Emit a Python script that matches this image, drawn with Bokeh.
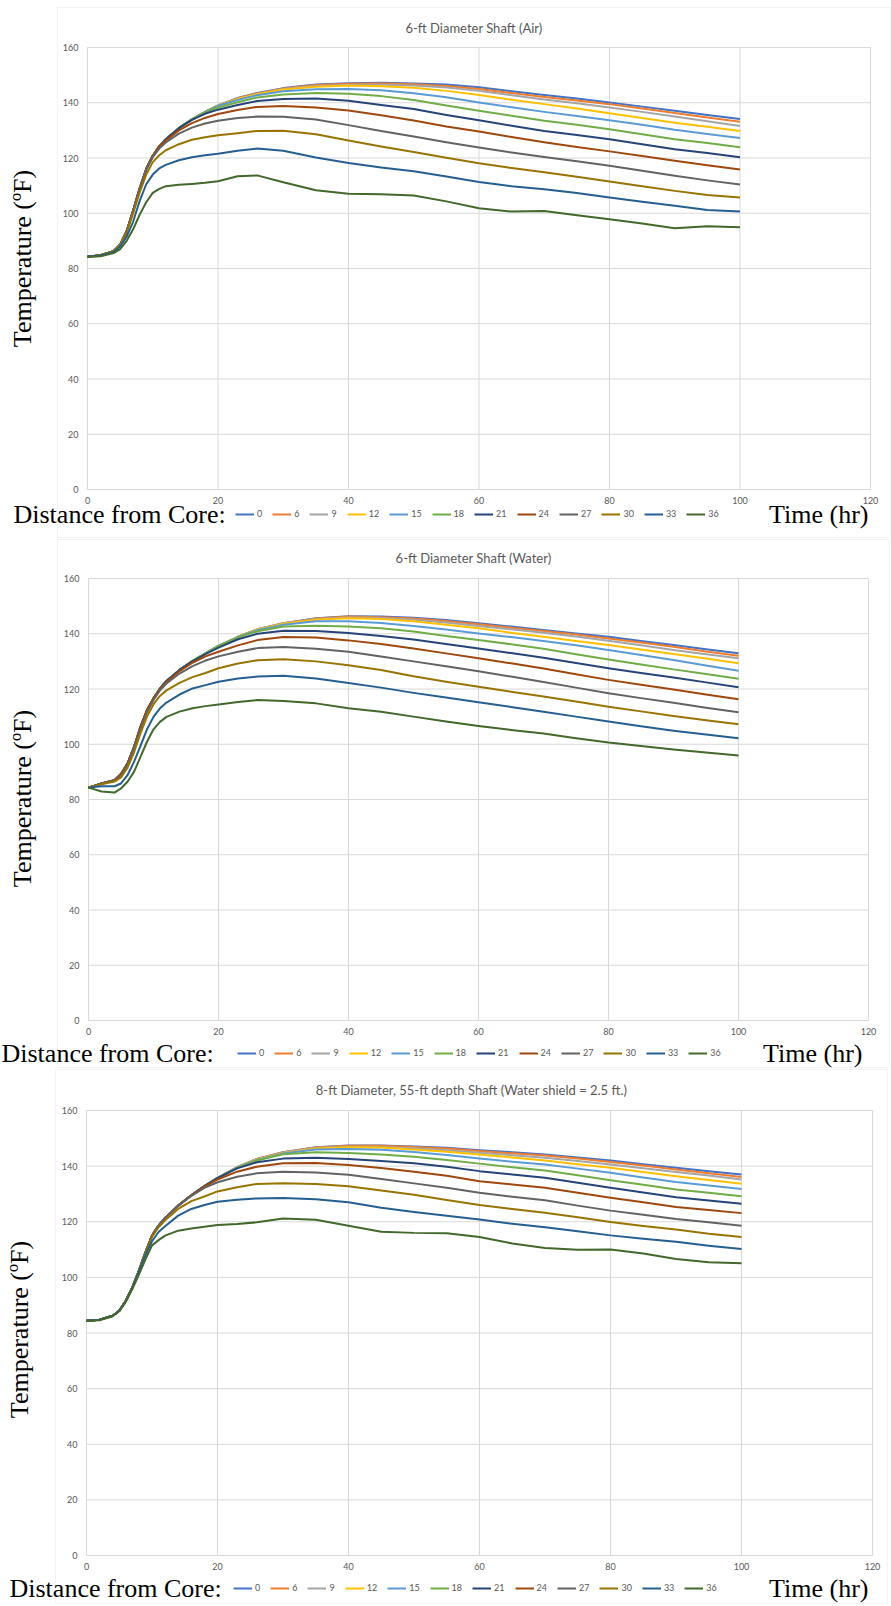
from math import pi
from bokeh.plotting import figure
from bokeh.models import Range1d, Label, BoxAnnotation, Legend, LegendItem, FixedTicker
from bokeh.layouts import column
from bokeh.embed import file_html
from bokeh.resources import INLINE

# ---------------- data ----------------
hours = [0, 2, 4, 5, 6, 7, 8, 9, 10, 11, 12, 14, 16, 18, 20, 23, 26, 30, 35, 40,
         45, 50, 55, 60, 65, 70, 75, 80, 85, 90, 95, 100]
distances = ["0", "6", "9", "12", "15", "18", "21", "24", "27", "30", "33", "36"]
x_ticks = [0, 20, 40, 60, 80, 100, 120]
y_ticks = [0, 20, 40, 60, 80, 100, 120, 140, 160]

# 6-ft Diameter Shaft (Air)
air_0 = [84.3, 84.8, 86.3, 88.6, 93.5, 101.0, 109.0, 116.0, 120.8, 124.2, 126.8, 130.8, 134.0, 136.7, 139.0, 141.7, 143.5, 145.3, 146.6, 147.1, 147.2, 147.0, 146.6, 145.6, 144.2, 142.8, 141.5, 140.1, 138.6, 137.1, 135.6, 134.1]
air_6 = [84.3, 84.8, 86.3, 88.6, 93.5, 101.0, 109.0, 116.0, 120.8, 124.2, 126.8, 130.8, 134.0, 136.7, 139.0, 141.6, 143.4, 145.2, 146.4, 146.9, 147.0, 146.7, 146.1, 145.0, 143.5, 142.1, 140.8, 139.5, 137.9, 136.3, 134.7, 133.1]
air_9 = [84.3, 84.8, 86.3, 88.6, 93.5, 101.0, 109.0, 116.0, 120.8, 124.2, 126.8, 130.8, 134.0, 136.7, 139.0, 141.5, 143.2, 145.0, 146.1, 146.5, 146.5, 146.2, 145.5, 144.3, 142.7, 141.2, 139.8, 138.3, 136.7, 135.0, 133.3, 131.6]
air_12 = [84.3, 84.8, 86.3, 88.6, 93.5, 101.0, 109.0, 116.0, 120.8, 124.2, 126.8, 130.8, 134.0, 136.7, 139.0, 141.4, 143.1, 144.8, 145.8, 146.2, 146.0, 145.4, 144.3, 142.8, 141.1, 139.5, 137.9, 136.2, 134.5, 132.8, 131.3, 129.8]
air_15 = [84.3, 84.8, 86.3, 88.6, 93.5, 101.0, 109.0, 116.0, 120.8, 124.2, 126.8, 130.8, 134.0, 136.7, 138.9, 141.0, 142.7, 144.2, 144.9, 145.0, 144.5, 143.4, 142.0, 140.1, 138.4, 136.7, 135.2, 133.7, 132.0, 130.2, 128.7, 127.2]
air_18 = [84.3, 84.8, 86.3, 88.6, 93.5, 101.0, 109.0, 116.0, 120.8, 124.2, 126.8, 130.8, 134.0, 136.5, 138.3, 140.2, 141.9, 143.0, 143.5, 143.3, 142.4, 141.0, 139.0, 137.1, 135.3, 133.5, 132.0, 130.4, 128.6, 126.8, 125.4, 123.9]
air_21 = [84.3, 84.8, 86.3, 88.6, 93.5, 101.0, 109.0, 116.0, 120.8, 124.2, 126.8, 130.8, 133.8, 136.0, 137.5, 139.2, 140.6, 141.4, 141.5, 140.7, 139.2, 137.7, 135.6, 133.7, 131.7, 129.8, 128.3, 126.8, 125.0, 123.2, 121.8, 120.3]
air_24 = [84.3, 84.8, 86.3, 88.6, 93.5, 101.0, 109.0, 116.0, 120.8, 124.2, 126.3, 130.0, 132.6, 134.5, 135.9, 137.4, 138.5, 138.8, 138.3, 137.2, 135.5, 133.6, 131.4, 129.6, 127.6, 125.7, 124.0, 122.4, 120.7, 119.0, 117.4, 115.8]
air_27 = [84.3, 84.8, 86.3, 88.6, 93.5, 101.0, 109.0, 115.8, 120.3, 123.4, 125.6, 128.8, 131.0, 132.5, 133.5, 134.5, 135.0, 134.9, 133.9, 131.9, 129.8, 127.8, 125.7, 123.8, 122.0, 120.4, 118.8, 117.2, 115.4, 113.6, 111.9, 110.4]
air_30 = [84.3, 84.8, 86.3, 88.5, 93.0, 100.0, 107.5, 114.0, 118.5, 121.0, 122.8, 125.0, 126.6, 127.5, 128.2, 129.0, 129.8, 129.9, 128.6, 126.3, 124.2, 122.2, 120.1, 118.1, 116.4, 114.8, 113.2, 111.5, 109.8, 108.1, 106.6, 105.7]
air_33 = [84.3, 84.7, 86.0, 88.0, 91.5, 97.0, 104.5, 110.5, 114.0, 116.2, 117.5, 119.2, 120.3, 121.0, 121.5, 122.6, 123.4, 122.6, 120.2, 118.2, 116.6, 115.2, 113.3, 111.3, 109.8, 108.7, 107.3, 105.7, 104.2, 102.7, 101.2, 100.6]
air_36 = [84.2, 84.4, 85.6, 87.0, 90.0, 94.2, 99.5, 104.0, 107.4, 108.8, 109.8, 110.3, 110.6, 111.0, 111.6, 113.4, 113.7, 111.2, 108.3, 107.1, 106.9, 106.4, 104.3, 101.8, 100.6, 100.8, 99.3, 97.8, 96.3, 94.6, 95.3, 94.9]

# 6-ft Diameter Shaft (Water)
water_0 = [84.3, 85.8, 87.0, 89.2, 93.0, 99.0, 106.3, 112.4, 116.6, 120.2, 122.9, 126.9, 130.2, 132.9, 135.6, 138.9, 141.6, 143.8, 145.6, 146.3, 146.2, 145.8, 145.0, 143.8, 142.6, 141.4, 140.1, 138.9, 137.4, 135.9, 134.4, 132.9]
water_6 = [84.3, 85.8, 87.0, 89.2, 93.0, 99.0, 106.3, 112.4, 116.6, 120.2, 122.9, 126.9, 130.2, 132.9, 135.6, 138.9, 141.6, 143.8, 145.5, 146.2, 146.0, 145.5, 144.6, 143.4, 142.2, 141.0, 139.7, 138.3, 136.8, 135.3, 133.6, 132.0]
water_9 = [84.3, 85.8, 87.0, 89.2, 93.0, 99.0, 106.3, 112.4, 116.6, 120.2, 122.9, 126.9, 130.2, 132.9, 135.6, 138.9, 141.6, 143.7, 145.3, 145.9, 145.7, 145.1, 144.1, 142.8, 141.6, 140.4, 139.0, 137.5, 135.8, 134.1, 132.6, 131.1]
water_12 = [84.3, 85.8, 87.0, 89.2, 93.0, 99.0, 106.3, 112.4, 116.6, 120.2, 122.9, 126.9, 130.2, 132.9, 135.6, 138.9, 141.5, 143.6, 145.1, 145.6, 145.3, 144.5, 143.3, 142.0, 140.4, 138.9, 137.4, 135.9, 134.3, 132.7, 131.0, 129.3]
water_15 = [84.3, 85.8, 87.0, 89.2, 93.0, 99.0, 106.3, 112.4, 116.6, 120.2, 122.9, 126.9, 130.2, 132.9, 135.6, 138.8, 141.3, 143.3, 144.5, 144.5, 143.9, 142.8, 141.5, 140.1, 138.8, 137.4, 135.8, 134.1, 132.3, 130.5, 128.5, 126.6]
water_18 = [84.3, 85.8, 87.0, 89.2, 93.0, 99.0, 106.3, 112.4, 116.6, 120.2, 122.9, 126.9, 130.2, 132.9, 135.6, 138.7, 140.9, 142.6, 142.9, 142.6, 142.0, 140.8, 139.2, 137.7, 136.2, 134.6, 132.6, 130.7, 128.9, 127.1, 125.4, 123.7]
water_21 = [84.3, 85.8, 87.0, 89.2, 93.0, 99.0, 106.3, 112.4, 116.6, 120.2, 122.9, 126.9, 130.0, 132.6, 135.0, 138.0, 140.0, 141.1, 141.0, 140.3, 139.2, 137.9, 136.3, 134.7, 133.0, 131.3, 129.4, 127.5, 125.8, 124.2, 122.4, 120.6]
water_24 = [84.3, 85.8, 87.0, 89.2, 93.0, 99.0, 106.3, 112.4, 116.6, 120.0, 122.5, 126.5, 129.5, 131.8, 133.5, 135.8, 137.7, 138.8, 138.6, 137.6, 136.3, 134.7, 132.9, 131.1, 129.3, 127.4, 125.3, 123.3, 121.5, 119.8, 118.0, 116.3]
water_27 = [84.3, 85.8, 86.8, 88.8, 92.5, 98.5, 105.5, 111.5, 116.0, 119.5, 122.0, 125.6, 128.3, 130.3, 131.8, 133.5, 134.8, 135.2, 134.6, 133.5, 131.8, 130.0, 128.2, 126.4, 124.5, 122.5, 120.5, 118.5, 116.7, 115.0, 113.2, 111.6]
water_30 = [84.3, 85.5, 86.5, 88.0, 91.5, 97.0, 104.0, 110.0, 114.5, 117.5, 119.5, 122.2, 124.3, 125.8, 127.5, 129.2, 130.4, 130.8, 130.0, 128.6, 126.9, 124.6, 122.6, 120.8, 119.0, 117.3, 115.5, 113.6, 111.9, 110.2, 108.7, 107.2]
water_33 = [84.3, 84.8, 84.8, 85.8, 88.8, 93.6, 99.4, 105.4, 109.9, 113.0, 115.1, 118.0, 120.2, 121.4, 122.6, 123.8, 124.5, 124.8, 123.8, 122.2, 120.5, 118.6, 116.9, 115.2, 113.5, 111.8, 110.0, 108.2, 106.5, 104.9, 103.5, 102.2]
water_36 = [84.3, 82.9, 82.5, 84.0, 86.4, 90.0, 95.4, 100.9, 105.4, 108.1, 109.9, 111.8, 113.0, 113.8, 114.4, 115.3, 116.0, 115.7, 114.8, 113.0, 111.8, 110.0, 108.2, 106.6, 105.2, 103.9, 102.2, 100.6, 99.4, 98.1, 97.0, 95.9]

# 8-ft Diameter, 55-ft depth Shaft (Water shield = 2.5 ft.)
shield_0 = [84.4, 84.8, 86.2, 88.0, 91.6, 96.4, 102.4, 109.0, 115.0, 118.6, 121.4, 125.8, 129.5, 132.8, 135.8, 139.6, 142.6, 145.0, 146.8, 147.4, 147.4, 147.1, 146.6, 145.7, 145.0, 144.2, 143.1, 142.0, 140.7, 139.4, 138.2, 137.0]
shield_6 = [84.4, 84.8, 86.2, 88.0, 91.6, 96.4, 102.4, 109.0, 115.0, 118.6, 121.4, 125.8, 129.5, 132.8, 135.8, 139.6, 142.6, 145.0, 146.7, 147.3, 147.3, 146.9, 146.3, 145.4, 144.6, 143.8, 142.7, 141.5, 140.2, 138.8, 137.4, 136.1]
shield_9 = [84.4, 84.8, 86.2, 88.0, 91.6, 96.4, 102.4, 109.0, 115.0, 118.6, 121.4, 125.8, 129.5, 132.8, 135.8, 139.6, 142.5, 144.9, 146.5, 147.0, 146.9, 146.4, 145.7, 144.8, 143.9, 143.0, 141.8, 140.6, 139.2, 137.9, 136.6, 135.2]
shield_12 = [84.4, 84.8, 86.2, 88.0, 91.6, 96.4, 102.4, 109.0, 115.0, 118.6, 121.4, 125.8, 129.5, 132.8, 135.8, 139.5, 142.4, 144.6, 146.3, 146.8, 146.7, 146.0, 145.2, 144.2, 143.1, 142.0, 140.7, 139.4, 137.9, 136.4, 135.0, 133.7]
shield_15 = [84.4, 84.8, 86.2, 88.0, 91.6, 96.4, 102.4, 109.0, 115.0, 118.6, 121.4, 125.8, 129.5, 132.8, 135.8, 139.5, 142.2, 144.5, 146.0, 146.2, 145.9, 145.1, 144.0, 142.7, 141.6, 140.6, 139.1, 137.6, 135.9, 134.3, 133.0, 131.8]
shield_18 = [84.4, 84.8, 86.2, 88.0, 91.6, 96.4, 102.4, 109.0, 115.0, 118.6, 121.4, 125.8, 129.5, 132.8, 135.8, 139.4, 142.0, 144.3, 145.0, 144.7, 144.2, 143.4, 142.2, 140.9, 139.6, 138.4, 136.7, 134.9, 133.3, 131.6, 130.4, 129.2]
shield_21 = [84.4, 84.8, 86.2, 88.0, 91.6, 96.4, 102.4, 109.0, 115.0, 118.6, 121.4, 125.8, 129.5, 132.8, 135.7, 139.2, 141.4, 142.7, 143.0, 142.6, 141.8, 141.0, 139.8, 138.2, 137.0, 135.8, 134.0, 132.2, 130.5, 128.8, 127.6, 126.5]
shield_24 = [84.4, 84.8, 86.2, 88.0, 91.6, 96.4, 102.4, 109.0, 115.0, 118.6, 121.4, 125.8, 129.5, 132.6, 135.2, 138.0, 139.8, 141.0, 141.1, 140.4, 139.3, 138.0, 136.5, 134.6, 133.4, 132.2, 130.4, 128.6, 127.0, 125.3, 124.2, 123.1]
shield_27 = [84.4, 84.8, 86.2, 88.0, 91.6, 96.4, 102.4, 109.0, 115.0, 118.6, 121.4, 125.8, 129.3, 132.2, 134.2, 136.2, 137.4, 138.0, 137.7, 136.9, 135.4, 133.8, 132.2, 130.4, 129.0, 127.7, 125.8, 124.0, 122.5, 121.0, 119.8, 118.6]
shield_30 = [84.4, 84.8, 86.2, 88.0, 91.6, 96.4, 102.2, 108.6, 114.5, 118.0, 120.5, 124.6, 127.4, 129.1, 130.9, 132.4, 133.6, 133.8, 133.6, 132.8, 131.2, 129.7, 127.8, 126.0, 124.6, 123.2, 121.6, 119.9, 118.5, 117.2, 115.7, 114.5]
shield_33 = [84.4, 84.8, 86.2, 88.0, 91.5, 96.2, 102.0, 108.0, 113.0, 116.3, 118.4, 122.2, 124.6, 126.0, 127.2, 127.9, 128.4, 128.5, 128.1, 127.0, 125.0, 123.5, 122.2, 120.8, 119.3, 118.0, 116.6, 115.1, 113.9, 112.8, 111.4, 110.2]
shield_36 = [84.4, 84.6, 86.0, 87.8, 91.2, 95.8, 101.0, 106.5, 111.5, 113.4, 115.0, 116.8, 117.6, 118.2, 118.8, 119.2, 119.8, 121.2, 120.7, 118.6, 116.4, 116.0, 115.9, 114.5, 112.2, 110.6, 109.9, 110.0, 108.6, 106.6, 105.4, 105.1]

air_series = [air_0, air_6, air_9, air_12, air_15, air_18, air_21, air_24, air_27, air_30, air_33, air_36]
water_series = [water_0, water_6, water_9, water_12, water_15, water_18, water_21, water_24, water_27, water_30, water_33, water_36]
shield_series = [shield_0, shield_6, shield_9, shield_12, shield_15, shield_18, shield_21, shield_24, shield_27, shield_30, shield_33, shield_36]

colors = ["#4472C4", "#ED7D31", "#A5A5A5", "#FFC000", "#5B9BD5", "#70AD47",
          "#264478", "#9E480E", "#636363", "#997300", "#255E91", "#43682B"]

W = 891
SANS = "Lato"
SERIF = "Liberation Serif"
GREY = "#595959"
GRID = "#d9d9d9"
X0, X1 = x_ticks[0], x_ticks[-1]
Y0, Y1 = y_ticks[0], y_ticks[-1]


def make_panel(title, series, height, fl, fr, ft, fb, box, title_y, ylab_x, ylab_y,
               row_y, dist_x, legend_x, time_right):
    # The frame spans the whole canvas; the ranges are extended so that the
    # data area (X0..X1, Y0..Y1) falls on the pixel box fl..fr / ft..fb.
    sx = (fr - fl) / (X1 - X0)
    sy = (fb - ft) / (Y1 - Y0)
    xr = Range1d(X0 - fl / sx, X1 + (W - fr) / sx)
    yr = Range1d(Y0 - (height - fb) / sy, Y1 + ft / sy)
    p = figure(width=W, height=height, output_backend="svg", toolbar_location=None,
               x_range=xr, y_range=yr, min_border=0,
               min_border_left=0, min_border_right=0, min_border_top=0, min_border_bottom=0)
    p.outline_line_color = None
    p.background_fill_color = "white"
    p.border_fill_color = "white"
    p.grid.visible = False

    # gridlines of the data area
    p.segment(x0=x_ticks, y0=[Y0] * len(x_ticks), x1=x_ticks, y1=[Y1] * len(x_ticks),
              line_color=GRID, line_width=1, level="underlay")
    p.segment(x0=[X0] * len(y_ticks), y0=y_ticks, x1=[X1] * len(y_ticks), y1=y_ticks,
              line_color=GRID, line_width=1, level="underlay")

    # axes fixed on the data area
    p.xaxis.fixed_location = Y0
    p.xaxis.bounds = (X0, X1)
    p.yaxis.fixed_location = X0
    p.yaxis.bounds = (Y0, Y1)
    p.xaxis.ticker = FixedTicker(ticks=x_ticks)
    p.yaxis.ticker = FixedTicker(ticks=y_ticks)
    for ax in (p.xaxis, p.yaxis):
        ax.axis_line_color = None
        ax.major_tick_line_color = None
        ax.minor_tick_line_color = None
        ax.major_tick_out = 0
        ax.major_tick_in = 0
        ax.minor_tick_out = 0
        ax.major_label_text_font = SANS
        ax.major_label_text_font_size = "9px"
        ax.major_label_text_color = GREY
    p.xaxis.major_label_standoff = 7
    p.yaxis.major_label_standoff = 9

    renderers = []
    for vals, c in zip(series, colors):
        r = p.line(hours, vals, line_color=c, line_width=2, line_join="round")
        renderers.append(r)

    # chart-area border
    p.add_layout(BoxAnnotation(left=box[0], right=box[1], top=box[2], bottom=box[3],
                               left_units="canvas", right_units="canvas",
                               top_units="canvas", bottom_units="canvas",
                               fill_alpha=0, line_color=GRID, line_width=1))

    p.add_layout(Label(x=(box[0] + box[1]) / 2, y=title_y, x_units="canvas", y_units="canvas",
                       text=title, text_align="center", text_baseline="middle",
                       text_font=SANS, text_font_size="13px", text_color=GREY))
    p.add_layout(Label(x=ylab_x, y=ylab_y, x_units="canvas", y_units="canvas",
                       text="Temperature (ºF)", angle=pi / 2, text_align="center",
                       text_baseline="middle", text_font=SERIF, text_font_size="26px",
                       text_color="black"))
    p.add_layout(Label(x=dist_x, y=row_y, x_units="canvas", y_units="canvas",
                       text="Distance from Core:", text_align="left", text_baseline="middle",
                       text_font=SERIF, text_font_size="26px", text_color="black"))
    p.add_layout(Label(x=time_right, y=row_y, x_units="canvas", y_units="canvas",
                       text="Time (hr)", text_align="right", text_baseline="middle",
                       text_font=SERIF, text_font_size="26px", text_color="black"))

    lh = 10
    legend = Legend(items=[LegendItem(label=d, renderers=[r]) for d, r in zip(distances, renderers)],
                    orientation="horizontal",
                    location=(legend_x, height - row_y - lh / 2),
                    padding=0, margin=0, spacing=10, glyph_width=19, glyph_height=lh,
                    label_height=lh, label_width=0, label_standoff=3,
                    label_text_font=SANS, label_text_font_size="9px",
                    label_text_color=GREY, label_text_baseline="middle",
                    background_fill_alpha=0, border_line_alpha=0)
    p.add_layout(legend)
    return p


p1 = make_panel("6-ft Diameter Shaft (Air)", air_series, 538,
                87, 870, 47, 489, (57, 890, 7, 537), 27, 22, 258,
                514, 13, 235, 868)
p2 = make_panel("6-ft Diameter Shaft (Water)", water_series, 530,
                88, 868, 40, 482, (57, 889, 1, 529), 19, 22, 260,
                515, 1, 237, 862)
p3 = make_panel("8-ft Diameter, 55-ft depth Shaft (Water shield = 2.5 ft.)", shield_series, 538,
                86, 872, 42, 487, (55, 887, 1, 535), 21, 19, 261,
                520, 9, 233, 868)

layout = column(p1, p2, p3, spacing=0)
open("out.html", "w").write(file_html(layout, INLINE))
